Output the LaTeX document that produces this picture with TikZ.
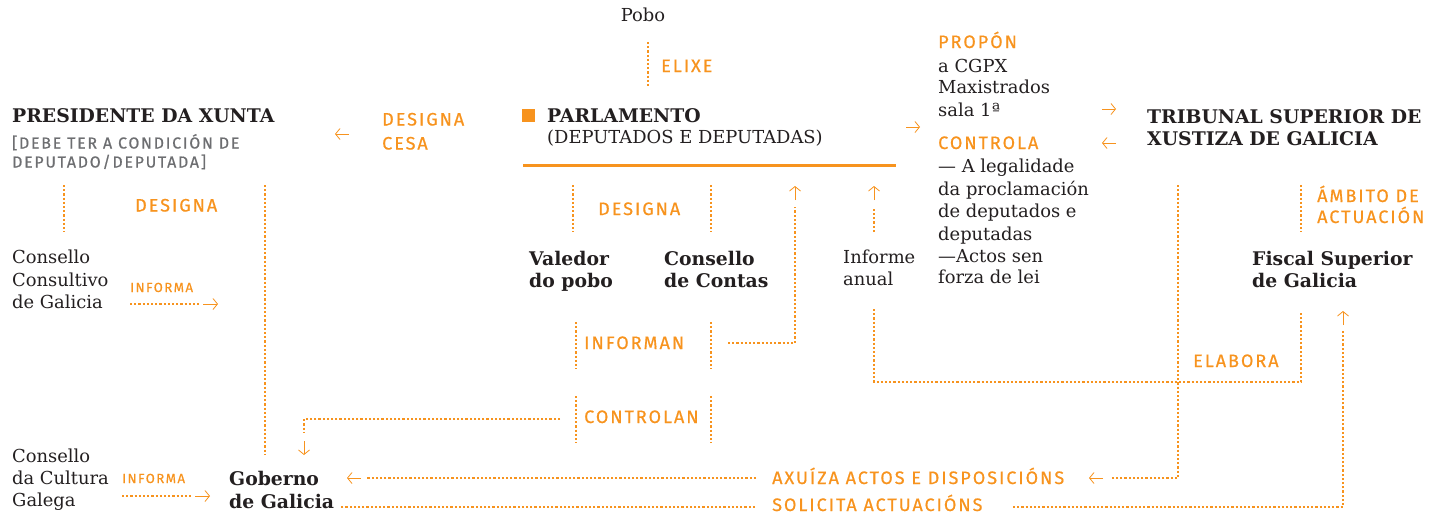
\documentclass[tikz,border=0pt]{standalone}
\usepackage{fontspec}
\setmainfont{DejaVu Serif}
\newfontfamily\din[LetterSpace=11, FakeBold=0.6]{Fira Sans}
\usetikzlibrary{arrows.meta}
\definecolor{org}{HTML}{F7931E}
\definecolor{gry}{HTML}{6D6E71}
\definecolor{ink}{HTML}{231F20}
\tikzset{
  txt/.style={anchor=base west, inner sep=0pt, text=ink, font=\fontsize{17.9}{22.5}\selectfont},
  hd/.style={anchor=base west, inner sep=0pt, text=ink, font=\fontsize{18.8}{22.5}\selectfont\bfseries},
  lab/.style={anchor=base west, inner sep=0pt, text=org, font=\fontsize{18}{22}\selectfont\din},
  sml/.style={anchor=base west, inner sep=0pt, text=org, font=\fontsize{13.2}{14}\selectfont\din},
  note/.style={anchor=base west, inner sep=0pt, text=gry, font=\fontsize{15.9}{19}\selectfont\din},
  dots/.style={draw=org, line width=2.2pt, line cap=butt, dash pattern=on 2.2pt off 2pt},
  arr/.style={draw=org, line width=0.8pt, -{Straight Barb[length=4.5pt,width=11pt]}},
}
\begin{document}
\begin{tikzpicture}[x=1pt,y=-1pt]
\useasboundingbox (0,0) rectangle (1435,517);

% ---------- texts ----------
\node[txt, anchor=base] (pobo) at (643,21) {Pobo};
\node[lab] (elixe) at (661,72) {ELIXE};
\node[fill=org, minimum size=13pt, inner sep=0pt] (sq) at (528.5,115.5) {};
\node[hd] (parl) at (547,122) {PARLAMENTO};
\node[txt] (dep) at (547,143) {(DEPUTADOS E DEPUTADAS)};

\node[hd] (pres) at (12,122) {PRESIDENTE DA XUNTA};
\node[note] (debe1) at (12,148.5) {[DEBE TER A CONDICIÓN DE};
\node[note] (debe2) at (12,167.5) {DEPUTADO/DEPUTADA]};
\node[lab] (desig1) at (382,125.5) {DESIGNA};
\node[lab] (cesa) at (382,149.5) {CESA};
\node[lab] (desig2) at (135,211.5) {DESIGNA};

\node[txt] (cc1) at (12,263) {Consello};
\node[txt] (cc2) at (12,286) {Consultivo};
\node[txt] (cc3) at (12,308) {de Galicia};
\node[sml] (inf1) at (130,292) {INFORMA};

\node[txt] (cu1) at (12,462) {Consello};
\node[txt] (cu2) at (12,484) {da Cultura};
\node[txt] (cu3) at (12,506) {Galega};
\node[sml] (inf2) at (122,483) {INFORMA};

\node[hd] (gob1) at (229,485) {Goberno};
\node[hd] (gob2) at (229,508) {de Galicia};

\node[hd] (val1) at (529,265) {Valedor};
\node[hd] (val2) at (529,287) {do pobo};
\node[hd] (con1) at (664,265) {Consello};
\node[hd] (con2) at (664,287) {de Contas};
\node[lab] (desig3) at (598,215) {DESIGNA};
\node[lab] (informan) at (584,349) {INFORMAN};
\node[lab] (controlan) at (584,423) {CONTROLAN};

\node[txt] (ia1) at (843,263) {Informe};
\node[txt] (ia2) at (843,285) {anual};

\node[lab] (propon) at (938,48) {PROPÓN};
\node[txt] (p1) at (938,72) {a CGPX};
\node[txt] (p2) at (938,93) {Maxistrados};
\node[txt] (p3) at (938,116) {sala 1ª};
\node[lab] (controla) at (938,149) {CONTROLA};
\node[txt] (c1) at (938,172) {— A legalidade};
\node[txt] (c2) at (938,195) {da proclamación};
\node[txt] (c3) at (938,217) {de deputados e};
\node[txt] (c4) at (938,240) {deputadas};
\node[txt] (c5) at (938,262) {—Actos sen};
\node[txt] (c6) at (938,283) {forza de lei};

\node[hd] (tsx1) at (1147,123) {TRIBUNAL SUPERIOR DE};
\node[hd] (tsx2) at (1147,145) {XUSTIZA DE GALICIA};
\node[lab] (amb1) at (1317,202) {ÁMBITO DE};
\node[lab] (amb2) at (1317,223) {ACTUACIÓN};
\node[hd] (fis1) at (1252,265) {Fiscal Superior};
\node[hd] (fis2) at (1252,287) {de Galicia};
\node[lab] (elabora) at (1193,367) {ELABORA};

\node[lab] (axuiza) at (772,484) {AXUÍZA ACTOS E DISPOSICIÓNS};
\node[lab] (solicita) at (772,511) {SOLICITA ACTUACIÓNS};

% ---------- coordinates ----------
\coordinate (e1) at (648,42);   \coordinate (e2) at (648,88);
\coordinate (b1) at (523,165);  \coordinate (b2) at (896,165);
\coordinate (pa1) at (906,127); \coordinate (pa2) at (920,127);
\coordinate (pr1) at (349,134); \coordinate (pr2) at (335,134);
\coordinate (d1a) at (64,185);  \coordinate (d1b) at (64,232);
\coordinate (g1a) at (265,185); \coordinate (g1b) at (265,455);
\coordinate (i1a) at (130,304); \coordinate (i1b) at (200,304); \coordinate (i1c) at (203,304); \coordinate (i1d) at (218,304);
\coordinate (i2a) at (122,496); \coordinate (i2b) at (192,496); \coordinate (i2c) at (195,496); \coordinate (i2d) at (210,496);
\coordinate (ct1) at (560,419); \coordinate (ct2) at (304,419); \coordinate (ct3) at (304,433);
\coordinate (ct4) at (304,441); \coordinate (ct5) at (304,455);
\coordinate (dv1) at (573,185); \coordinate (dv2) at (573,232);
\coordinate (dc1) at (711,185); \coordinate (dc2) at (711,232);
\coordinate (in1) at (576,322); \coordinate (in2) at (576,369);
\coordinate (in3) at (711,322); \coordinate (in4) at (711,369);
\coordinate (co1) at (576,396); \coordinate (co2) at (576,443);
\coordinate (co3) at (711,396); \coordinate (co4) at (711,443);
\coordinate (ir1) at (728,343); \coordinate (ir2) at (795,343); \coordinate (ir3) at (795,207);
\coordinate (ir4) at (795,200); \coordinate (ir5) at (795,186);
\coordinate (an1) at (874,232); \coordinate (an2) at (874,207);
\coordinate (an3) at (874,200); \coordinate (an4) at (874,186);
\coordinate (el1) at (874,309); \coordinate (el2) at (874,382); \coordinate (el3) at (1301,382); \coordinate (el4) at (1301,311);
\coordinate (tp1) at (1102,109); \coordinate (tp2) at (1116,109);
\coordinate (tc1) at (1116,143); \coordinate (tc2) at (1102,143);
\coordinate (ax1) at (1178,185); \coordinate (ax2) at (1178,478); \coordinate (ax3) at (1110,478);
\coordinate (ax4) at (1103,478); \coordinate (ax5) at (1089,478);
\coordinate (ax6) at (756,478);  \coordinate (ax7) at (366,478);
\coordinate (ax8) at (361,478);  \coordinate (ax9) at (347,478);
\coordinate (am1) at (1301,185); \coordinate (am2) at (1301,232);
\coordinate (so1) at (755,507); \coordinate (so2) at (341,507);
\coordinate (so3) at (1013,507); \coordinate (so4) at (1343,507); \coordinate (so5) at (1343,331);
\coordinate (so6) at (1343,325); \coordinate (so7) at (1343,311);

% ---------- lines ----------
\draw[org, line width=3pt] (b1) -- (b2);
\draw[dots] (e1) -- (e2);
\draw[arr] (pa1) -- (pa2);
\draw[arr] (pr1) -- (pr2);
\draw[dots] (d1a) -- (d1b);
\draw[dots] (g1a) -- (g1b);
\draw[dots] (i1a) -- (i1b); \draw[arr] (i1c) -- (i1d);
\draw[dots] (i2a) -- (i2b); \draw[arr] (i2c) -- (i2d);
\draw[dots] (ct1) -- (ct2) -- (ct3); \draw[arr] (ct4) -- (ct5);
\draw[dots] (dv1) -- (dv2);
\draw[dots] (dc1) -- (dc2);
\draw[dots] (in1) -- (in2);
\draw[dots] (in3) -- (in4);
\draw[dots] (co1) -- (co2);
\draw[dots] (co3) -- (co4);
\draw[dots] (ir1) -- (ir2) -- (ir3); \draw[arr] (ir4) -- (ir5);
\draw[dots] (an1) -- (an2); \draw[arr] (an3) -- (an4);
\draw[dots] (el1) -- (el2) -- (el3) -- (el4);
\draw[arr] (tp1) -- (tp2);
\draw[arr] (tc1) -- (tc2);
\draw[dots] (ax1) -- (ax2) -- (ax3); \draw[arr] (ax4) -- (ax5);
\draw[dots] (ax6) -- (ax7); \draw[arr] (ax8) -- (ax9);
\draw[dots] (am1) -- (am2);
\draw[dots] (so1) -- (so2);
\draw[dots] (so3) -- (so4) -- (so5); \draw[arr] (so6) -- (so7);
\end{tikzpicture}
\end{document}
